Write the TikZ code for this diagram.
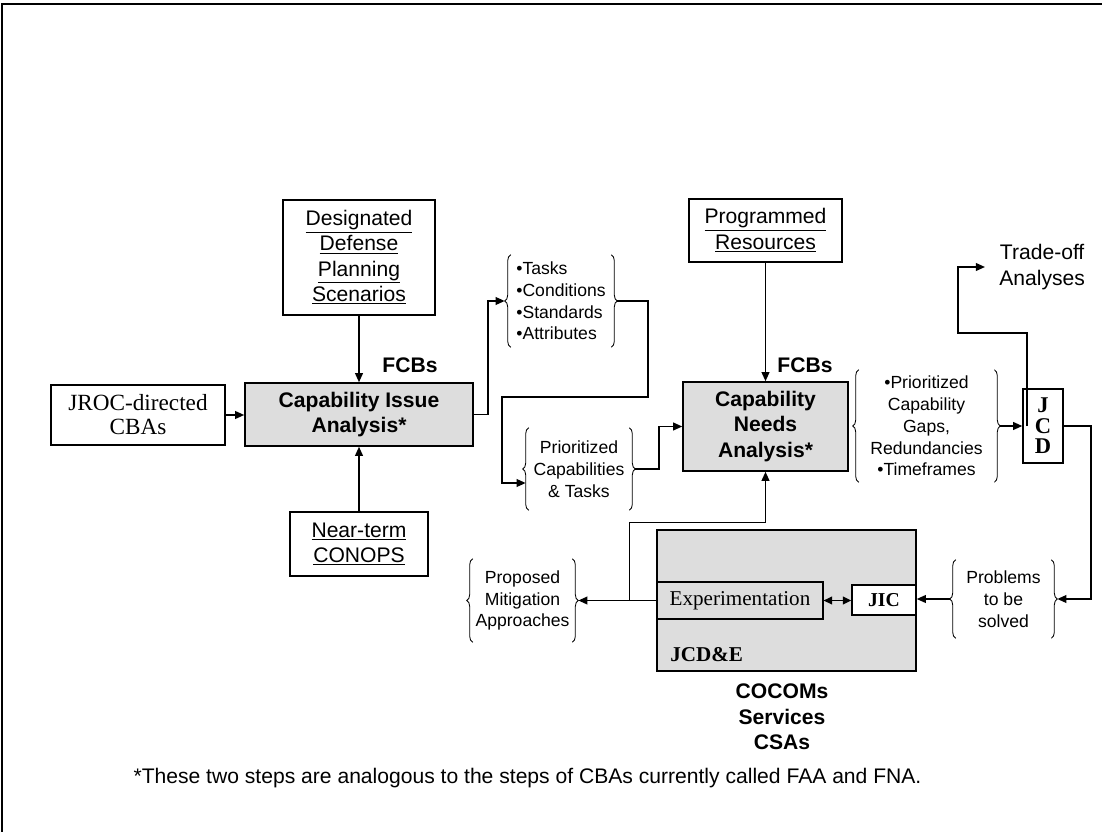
\documentclass[tikz,border=0pt]{standalone}
\usepackage{fontspec}
\setmainfont{Liberation Sans}
\newfontfamily\tmsfont{Liberation Serif}
\usepackage{tikz}
\usetikzlibrary{arrows.meta}
\usetikzlibrary{calc}
\usetikzlibrary{decorations.pathreplacing}

\definecolor{boxgray}{HTML}{DDDDDD}
\tikzset{
    plainbox/.style = {draw, line width = 1pt, fill = white, align = center, inner sep = 0pt},
    graybox/.style = {plainbox, fill = boxgray},
    arr/.style = {line width = 1.2pt, -{Triangle[length = 6.5pt, width = 5.5pt]}},
    lbrace/.style = {decorate, decoration = {brace, amplitude = 0.15cm}, line width = 0.6pt},
    bracetext/.style = {align = center, inner sep = 0pt, font = \fontsize{12.5}{15.5}\selectfont},
    bigtext/.style = {font = \fontsize{15}{18}\selectfont},
    bigbold/.style = {font = \fontsize{15}{18}\selectfont\bfseries}
}

\begin{document}
\begin{tikzpicture}[x = 0.025cm, y = -0.025cm]
        \useasboundingbox (0, 0) rectangle (1102, 832);
        \draw [line width = 1.5pt] (2, 832) -- (2, 4) -- (1102, 4);

        % issue analysis side
        \node [plainbox, bigtext, minimum width = 3.8cm, minimum height = 2.875cm] (dps) at (359, 257.5) {\underline{Designated}\\ \underline{Defense}\\ \underline{Planning}\\ \underline{Scenarios}};
        \node [graybox, bigbold, minimum width = 5.7cm, minimum height = 1.575cm] (cia) at (359, 414.5) {Capability Issue\\ Analysis*};
        \node [plainbox, minimum width = 4.35cm, minimum height = 1.5cm, font = \tmsfont\fontsize{16.5}{17}\selectfont] (jroc) at (138, 415) {JROC-directed\\ CBAs};
        \node [plainbox, bigtext, minimum width = 3.45cm, minimum height = 1.6cm] (near) at (359, 544) {\underline{Near-term}\\ \underline{CONOPS}};
        \node [bigbold] (fcbsa) at (410, 365) {FCBs};
        \node [bracetext, align = left, minimum width = 2.5cm, minimum height = 2.3cm] (tasks) at (561, 301) {•Tasks\\ •Conditions\\ •Standards\\ •Attributes};
        \node [bracetext, minimum width = 2.5cm, minimum height = 2.05cm] (prio) at (579, 469) {Prioritized\\ Capabilities\\ \& Tasks};

        % needs analysis side
        \node [plainbox, bigtext, minimum width = 3.825cm, minimum height = 1.575cm] (prog) at (765.5, 230.5) {\underline{Programmed}\\ \underline{Resources}};
        \node [graybox, bigbold, minimum width = 4.125cm, minimum height = 2.225cm] (cna) at (765.5, 426.5) {Capability\\ Needs\\ Analysis*};
        \node [bigbold] (fcbsb) at (805, 365) {FCBs};
        \node [bracetext, minimum width = 3.375cm, minimum height = 2.8cm] (gaps) at (926.5, 426) {•Prioritized\\ Capability\\ Gaps,\\ Redundancies\\ •Timeframes};
        \node [plainbox, minimum width = 1cm, minimum height = 1.85cm, font = \tmsfont\fontsize{16}{14.6}\selectfont\bfseries] (jcd) at (1043, 426) {J\\ C\\ D};
        \node [bigtext, anchor = west, inner xsep = 10pt, align = center] (trade) at (985, 267) {Trade-off\\ Analyses};
        \node [bracetext, minimum width = 2.375cm, minimum height = 1.95cm] (probs) at (1003.5, 599) {Problems\\ to be\\ solved};

        % JCD&E block
        \node [graybox, minimum width = 6.475cm, minimum height = 3.525cm] (jcde) at (786.5, 600.5) {};
        \node [graybox, line width = 0.8pt, minimum width = 4.15cm, minimum height = 0.925cm, font = \tmsfont\fontsize{15}{18}\selectfont] (exp) at (740, 600.5) {Experimentation};
        \node [plainbox, minimum width = 1.6cm, minimum height = 0.75cm, font = \tmsfont\fontsize{14}{17}\selectfont\bfseries] (jic) at (884, 600) {JIC};
        \node [anchor = west, inner sep = 0pt, font = \tmsfont\fontsize{15}{18}\selectfont\bfseries] (jcdelbl) at (670, 655) {JCD\&E};
        \node [bigbold, align = center] (orgs) at (782, 717) {COCOMs\\ Services\\ CSAs};
        \node [bracetext, minimum width = 2.475cm, minimum height = 2.075cm] (prop) at (522.5, 600.5) {Proposed\\ Mitigation\\ Approaches};

        \node [bigtext] (note) at (527.5, 778) {*These two steps are analogous to the steps of CBAs currently called FAA and FNA.};

        % braces
        \draw [lbrace] (tasks.south west) -- (tasks.north west);
        \draw [lbrace] (tasks.north east) -- (tasks.south east);
        \draw [lbrace] (prio.south west) -- (prio.north west);
        \draw [lbrace] (prio.north east) -- (prio.south east);
        \draw [lbrace] (gaps.south west) -- (gaps.north west);
        \draw [lbrace] (gaps.north east) -- (gaps.south east);
        \draw [lbrace] (probs.south west) -- (probs.north west);
        \draw [lbrace] (probs.north east) -- (probs.south east);
        \draw [lbrace] (prop.south west) -- (prop.north west);
        \draw [lbrace] (prop.north east) -- (prop.south east);
        \coordinate (tasks-l) at ($(tasks.west) + (-6, 0)$);
        \coordinate (tasks-r) at ($(tasks.east) + (6, 0)$);
        \coordinate (prio-in) at ($(prio.west) + (-3, 14)$);
        \coordinate (prio-r) at ($(prio.east) + (6, 0)$);
        \coordinate (gaps-r) at ($(gaps.east) + (6, 0)$);
        \coordinate (probs-l) at ($(probs.west) + (-6, 0)$);
        \coordinate (probs-r) at ($(probs.east) + (6, 0)$);
        \coordinate (prop-r) at ($(prop.east) + (6, 0)$);
        \coordinate (split) at ($(exp.west) + (-27, 0)$);

        % connectors
        \draw [arr] (dps) -- (cia);
        \draw [arr] (jroc.east) -- (jroc.east -| cia.west);
        \draw [arr] (near) -- (cia);
        \draw [arr] (cia.east) -- ++(14, 0) |- (tasks-l);
        \draw [arr] (tasks-r) -| (648, 397) -| (502, 483) -- (prio-in);
        \draw [arr] (prio-r) -- ++(24, 0) |- (cna.west);
        \draw [arr] (prog) -- (cna);
        \draw [arr] (gaps-r) -- (jcd.west);
        \draw [arr] ($(jcd.west) + (5, 0)$) -- ++(0, -93) -- ++(-69, 0) |- (trade.west);
        \draw [arr] (jcd.east) -- ++(27, 0) |- (probs-r);
        \draw [arr] (probs-l) -- (probs-l -| jic.east);
        \draw [line width = 1.2pt, {Triangle[length = 6pt, width = 5.5pt]}-{Triangle[length = 6pt, width = 5.5pt]}] (exp.east) -- (exp.east -| jic.west);
        \draw [arr] (exp.west) -- (prop-r);
        \draw [arr] (split) -- ++(0, -78) -| (cna.south);
    \end{tikzpicture}
\end{document}
